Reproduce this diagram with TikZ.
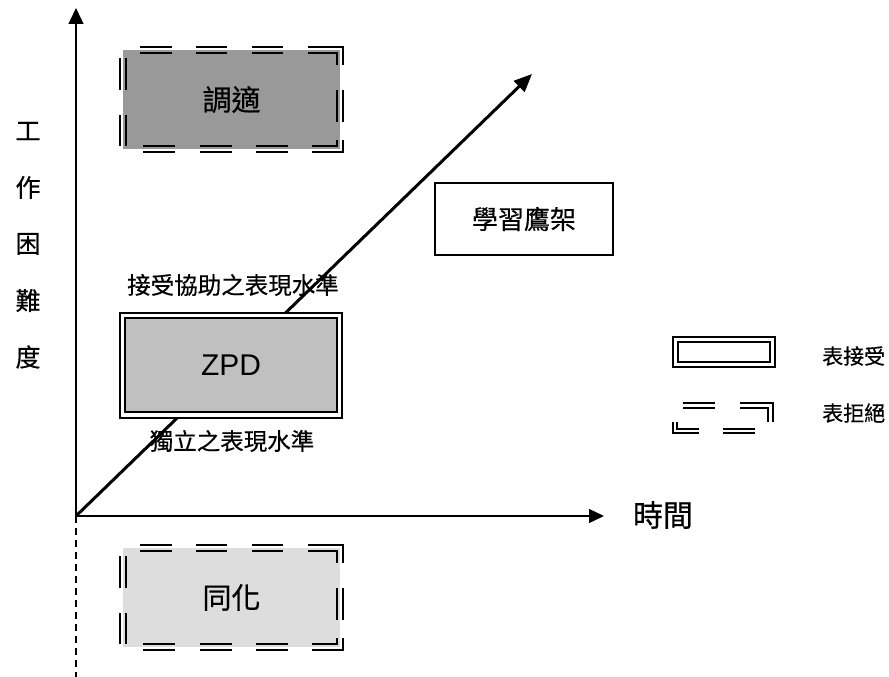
\documentclass[tikz,border=0pt]{standalone}
\usepackage{fontspec}
\setmainfont{Liberation Sans}
\newfontfamily\cjk{Noto Sans CJK TC}[FakeBold=0.5]
\usetikzlibrary{arrows.meta}
\definecolor{adaptgray}{HTML}{999999}
\definecolor{assimgray}{HTML}{DDDDDD}
\definecolor{zpdgray}{HTML}{C0C0C0}
\newcommand\rejectborder{%
  \draw[bline] (17,-3)--(49,-3) (17,3)--(49,3)
    (73,-3)--(104,-3) (73,3)--(104,3)
    (129,-3)--(160,-3) (129,3)--(160,3)
    (185,-3)--(220,-3)--(220,15) (185,3)--(214,3)--(214,15)
    (220,40)--(220,72) (214,40)--(214,72)
    (220,90)--(220,102)--(189,102) (214,90)--(214,96)--(189,96)
    (133,102)--(165,102) (133,96)--(165,96)
    (77,102)--(109,102) (77,96)--(109,96)
    (20,102)--(52,102) (20,96)--(52,96)
    (-3,8)--(-3,40) (3,8)--(3,40)
    (-3,65)--(-3,96) (3,65)--(3,96);}
\tikzset{
  bline/.style={line width=2.4pt},
  lbl/.style={font=\cjk\fontsize{23.5}{23.5}\selectfont, inner sep=0pt},
  vlbl/.style={font=\cjk\fontsize{25}{25}\selectfont, inner sep=0pt},
  bigcjk/.style={font=\cjk\fontsize{29}{29}\selectfont, inner sep=0pt},
  legtxt/.style={font=\cjk\fontsize{21}{21}\selectfont, inner sep=0pt, anchor=west},
  stagebox/.style={minimum width=217pt, minimum height=99pt, inner sep=0pt},
  axis/.style={line width=1.3pt},
}
\begin{document}
\begin{tikzpicture}[x=1pt,y=-1pt]
\useasboundingbox (0,0) rectangle (889,677);
% axes
\coordinate (O) at (76,516);
\coordinate (Ytop) at (76,8);
\coordinate (Yend) at (76,677);
\coordinate (Xend) at (604,516);
\coordinate (Dend) at (532,74);
\draw[axis, -{Triangle[length=16pt,width=15pt]}] (O) -- (Ytop);
\draw[axis, -{Triangle[length=15pt,width=14pt]}] (O) -- (Xend);
\draw[line width=1.6pt, dash pattern=on 7pt off 5pt] (O) -- (Yend);
\node[font=\cjk\fontsize{30}{30}\selectfont, inner sep=0pt] (time) at (663,515) {時間};
% vertical label
\node[vlbl] (v1) at (28,131) {工};
\node[vlbl] (v2) at (28,187.5) {作};
\node[vlbl] (v3) at (28,244) {困};
\node[vlbl] (v4) at (28,300.5) {難};
\node[vlbl] (v5) at (28,357) {度};
% level labels
\node[lbl] (accl) at (233,285) {接受協助之表現水準};
\node[lbl] (indl) at (232,441) {獨立之表現水準};
% diagonal scaffold arrow
\draw[line width=3pt, -{Triangle[length=18pt,width=15pt]}] (O) -- (Dend);
% ZPD
\draw[line width=1.2pt, fill=white] (120,313) rectangle (342,418);
\node[draw, line width=2.4pt, fill=zpdgray, minimum width=212pt, minimum height=94pt, inner sep=0pt,
  font=\fontsize{30}{30}\selectfont] (zpd) at (231,365) {ZPD};
% accommodation box
\node[stagebox, fill=adaptgray, bigcjk] (adapt) at (231.5,99.5) {調適};
\begin{scope}[shift={(123,50)}]\rejectborder\end{scope}
% assimilation box
\node[stagebox, fill=assimgray, bigcjk] (assim) at (231.5,597.5) {同化};
\begin{scope}[shift={(123,548)}]\rejectborder\end{scope}
% scaffold label
\node[draw, line width=1.3pt, minimum width=178pt, minimum height=72pt, inner sep=0pt,
  font=\cjk\fontsize{26}{26}\selectfont] (scaf) at (524,219) {學習鷹架};
% legend
\node[draw, line width=1.8pt, double, double distance=3pt, minimum width=97pt, minimum height=25pt, inner sep=0pt] (legacc) at (724,352) {};
\node[legtxt] (legacct) at (822,356) {表接受};
\draw[bline] (683,403)--(715,403) (683,408)--(715,408)
  (740,403)--(773,403)--(773,422) (740,408)--(768,408)--(768,422)
  (723,433)--(755,433) (723,429)--(755,429)
  (699,433)--(673,433)--(673,422) (699,429)--(677,429)--(677,422);
\node[legtxt] (legrejt) at (822,413) {表拒絕};
\end{tikzpicture}
\end{document}
